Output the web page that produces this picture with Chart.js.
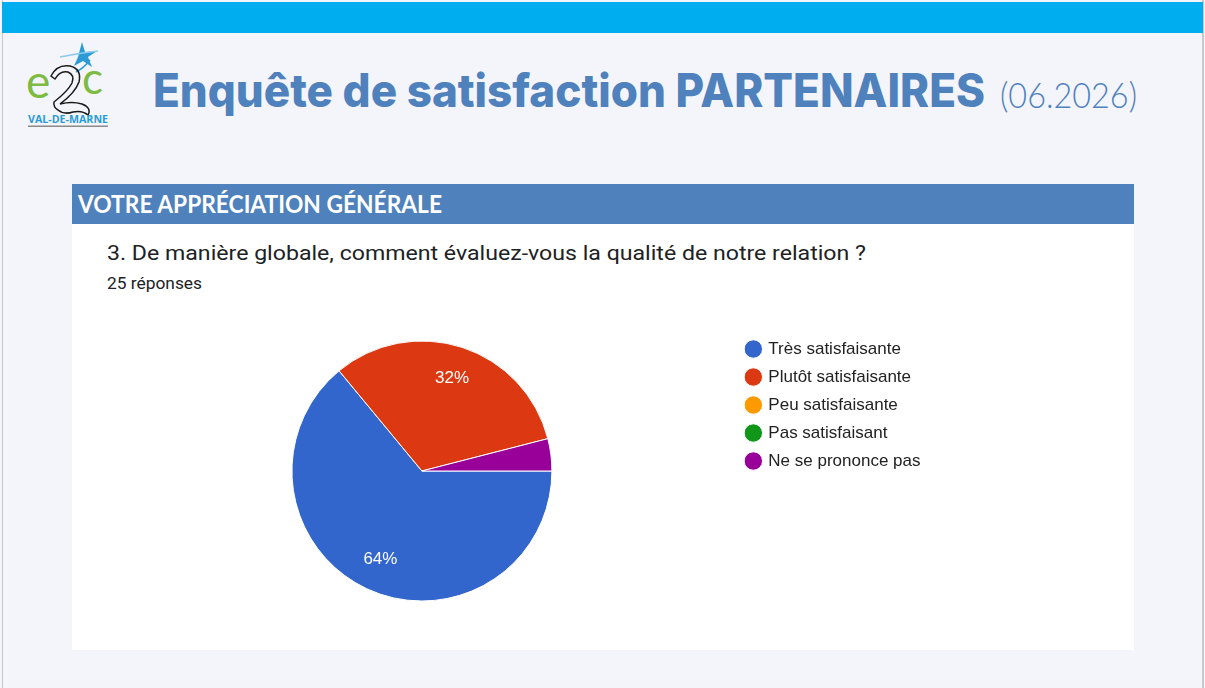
<!DOCTYPE html>
<html lang="fr">
<head>
<meta charset="utf-8">
<title>Enquête de satisfaction PARTENAIRES</title>
<script src="https://cdn.jsdelivr.net/npm/chart.js@4.4.1/dist/chart.umd.min.js"></script>
<style>
  html, body { margin: 0; padding: 0; }
  body { width: 1205px; height: 688px; overflow: hidden; background: #F4F5FA; position: relative; font-family: Roboto, "Liberation Sans", Arial, sans-serif; }
  .abs { position: absolute; }
  #frameL { left: 2px; top: 0; width: 1px; height: 688px; background: #C8C8CC; }
  #frameR { left: 1202px; top: 0; width: 2px; height: 688px; background: #C8C8CC; }
  #topbar { left: 2px; top: 2px; width: 1201px; height: 31px; background: #00AEEF; }
  #title { left: 153px; top: 62px; white-space: nowrap; color: #4F81BD; transform-origin: 0 0; }
  #title .b { font-family: Inter, "Noto Sans", sans-serif; font-weight: 800; font-size: 46px; }
  #date { left: 1000px; top: 72px; white-space: nowrap; color: #4F81BD; font-family: Lato, "Open Sans", sans-serif; font-weight: 300; font-size: 36px; transform-origin: 0 0; }
  #secbar { left: 72px; top: 184px; width: 1062px; height: 40px; background: #4F81BD; }
  #sectext { left: 78px; top: 188px; color: #fff; font-family: Lato, "Open Sans", sans-serif; font-weight: 700; font-size: 24px; white-space: nowrap; transform-origin: 0 0; line-height: 32px; }
  #panel { left: 72px; top: 224px; width: 1062px; height: 426px; background: #FFFFFF; }
  #question { left: 107px; top: 239px; font-family: Roboto, sans-serif; font-size: 20px; color: #202124; white-space: nowrap; line-height: 28px; transform-origin: 0 0; }
  #count { left: 107px; top: 274px; font-family: Roboto, sans-serif; font-size: 16px; color: #202124; white-space: nowrap; line-height: 20px; transform-origin: 0 0; }
  #chartbox { left: 72px; top: 224px; width: 1062px; height: 426px; }
</style>
</head>
<body>
<div class="abs" id="frameL"></div>
<div class="abs" id="frameR"></div>
<div class="abs" id="topbar"></div>

<svg class="abs" style="left:24px;top:38px" width="92" height="94" viewBox="0 0 92 94">
  <!-- star -->
  <path d="M58 4 L61 14 L73 13 L64 19 L68 29 L59 23 L50 28 L54 19 Z" fill="#2B9BD8"/>
  <path d="M36 19 Q56 15 74 13" stroke="#8CCBEB" stroke-width="1.5" fill="none"/>
  <path d="M66 22 Q60 30 52 34" stroke="#2B9BD8" stroke-width="1.5" fill="none"/>
  <!-- e -->
  <text x="2" y="60" font-family="Lato, 'Open Sans', sans-serif" font-size="46" font-weight="400" fill="#7DBB42">e</text>
  <!-- 2 (outline) -->
  <path d="M27 38 Q33 26 46 28 Q58 31 55 44 Q51 55 36 66 Q48 63 58 66 Q68 70 64 77 Q58 72 49 74 Q40 77 34 72 Q29 69 30 64 Q44 53 48 45 Q51 37 44 34 Q36 32 31 41 Z" fill="none" stroke="#1A1A1A" stroke-width="1.5"/>
  <!-- c -->
  <text x="58" y="56" font-family="Lato, 'Open Sans', sans-serif" font-size="44" font-weight="400" fill="#7DBB42">c</text>
  <!-- VAL-DE-MARNE -->
  <text x="4" y="85" font-family="'Open Sans', Lato, sans-serif" font-size="10.5" font-weight="700" fill="#2B9BD8" textLength="80" lengthAdjust="spacingAndGlyphs">VAL-DE-MARNE</text>
  <rect x="4" y="87.5" width="80" height="1.5" fill="#8A8A8A"/>
</svg>

<div class="abs" id="title"><span class="b">Enquête de satisfaction PARTENAIRES</span></div>
<div class="abs" id="date">(06.2026)</div>

<div class="abs" id="secbar"></div>
<div class="abs" id="panel"></div>
<div class="abs" id="sectext">VOTRE APPRÉCIATION GÉNÉRALE</div>
<div class="abs" id="question">3. De manière globale, comment évaluez-vous la qualité de notre relation ?</div>
<div class="abs" id="count">25 réponses</div>

<div class="abs" id="chartbox"><canvas id="pie" width="1062" height="426"></canvas></div>

<script>
// ---- data ----
const categories = ["Très satisfaisante", "Plutôt satisfaisante", "Peu satisfaisante", "Pas satisfaisant", "Ne se prononce pas"];
const responses = [16, 8, 0, 0, 1];
const sliceColors = ["#3366CC", "#DC3912", "#FF9900", "#109618", "#990099"];

// fit text widths to the reference layout
function fitWidth(id, target) {
  const el = document.getElementById(id);
  const w = el.getBoundingClientRect().width;
  if (w > 0) el.style.transform = 'scaleX(' + (target / w) + ')';
}
fitWidth('title', 832);
fitWidth('date', 137);
fitWidth('sectext', 364);
fitWidth('question', 759);
fitWidth('count', 95);

const pctLabels = {
  id: 'pctLabels',
  afterDatasetsDraw(chart) {
    const ctx = chart.ctx;
    const ds = chart.data.datasets[0];
    const total = ds.data.reduce((a, b) => a + b, 0);
    const meta = chart.getDatasetMeta(0);
    ctx.save();
    ctx.fillStyle = '#FFFFFF';
    ctx.font = '17px "Liberation Sans", Arial, sans-serif';
    ctx.textAlign = 'center';
    ctx.textBaseline = 'middle';
    meta.data.forEach((arc, i) => {
      const v = ds.data[i];
      if (!v || v / total < 0.05) return;
      const p = arc.getProps(['x', 'y', 'startAngle', 'endAngle', 'outerRadius'], true);
      const mid = (p.startAngle + p.endAngle) / 2;
      const r = p.outerRadius * 0.75;
      ctx.fillText(Math.round(v / total * 100) + '%', p.x + Math.cos(mid) * r, p.y + Math.sin(mid) * r);
    });
    ctx.restore();
  }
};

Chart.defaults.font.family = '"Liberation Sans", Arial, sans-serif';
new Chart(document.getElementById('pie'), {
  type: 'pie',
  data: {
    labels: categories,
    datasets: [{
      data: responses,
      backgroundColor: sliceColors,
      borderColor: '#FFFFFF',
      borderWidth: 1,
      radius: 130
    }]
  },
  options: {
    responsive: false,
    animation: false,
    rotation: 90,
    layout: { padding: { top: 105.5, bottom: 37.5, left: 36, right: 203.5 } },
    plugins: {
      tooltip: { enabled: false },
      legend: {
        position: 'right',
        align: 'start',
        labels: {
          usePointStyle: true,
          pointStyle: 'circle',
          boxWidth: 13,
          boxHeight: 13,
          padding: 11,
          color: '#222222',
          font: { size: 17, family: '"Liberation Sans", Arial, sans-serif' }
        }
      }
    }
  },
  plugins: [pctLabels]
});
</script>
</body>
</html>
